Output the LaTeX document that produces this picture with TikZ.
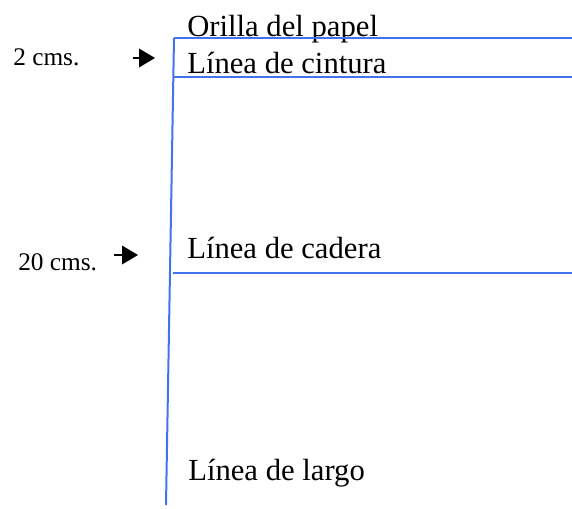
\documentclass[tikz,border=0pt]{standalone}
\usepackage{fontspec}
\setmainfont{Liberation Serif}
\usetikzlibrary{arrows.meta,positioning}
\definecolor{azul}{RGB}{66,114,240}
\tikzset{
    %Define style for labels
    rotulo/.style={
           anchor=base west,
           inner sep=0pt,
           font=\fontsize{23}{27}\selectfont},
    medida/.style={
           anchor=base west,
           inner sep=0pt,
           font=\fontsize{19}{23}\selectfont},
    % Define line style
    linea/.style={
           draw=azul,
           line width=1.5pt},
    flecha/.style={
           -{Triangle[length=12pt,width=14pt]},
           line width=1pt}
}
\begin{document}
\begin{tikzpicture}[x=0.75pt,y=-0.75pt]
\useasboundingbox (0,0) rectangle (572,508);
% corners of the paper
\coordinate (arriba) at (174,38);
\coordinate (abajo) at (166,505);
\coordinate (orillafin) at (572,38);
\coordinate (cintini) at (174,77);
\coordinate (cintfin) at (572,77);
\coordinate (cadini) at (173,273);
\coordinate (cadfin) at (572,273);
% labels
\node[rotulo] (orilla) at (187,36) {Orilla del papel};
\node[rotulo] (cintura) at (187,73) {Línea de cintura};
\node[rotulo] (cadera) at (187,258) {Línea de cadera};
\node[rotulo] (largo) at (188,480) {Línea de largo};
\node[medida] (dos) at (13,65) {2 cms.};
\node[medida] (veinte) at (18,270) {20 cms.};
% arrows
\coordinate (f1a) at (133,58);
\coordinate (f1b) at (155,58);
\coordinate (f2a) at (114,255);
\coordinate (f2b) at (138,255);
\draw[flecha] (f1a) -- (f1b);
\draw[flecha] (f2a) -- (f2b);
% lines
\path[linea]
	(arriba) edge (abajo)
	(arriba) edge (orillafin)
	(cintini) edge (cintfin)
	(cadini) edge (cadfin);
\end{tikzpicture}
\end{document}
